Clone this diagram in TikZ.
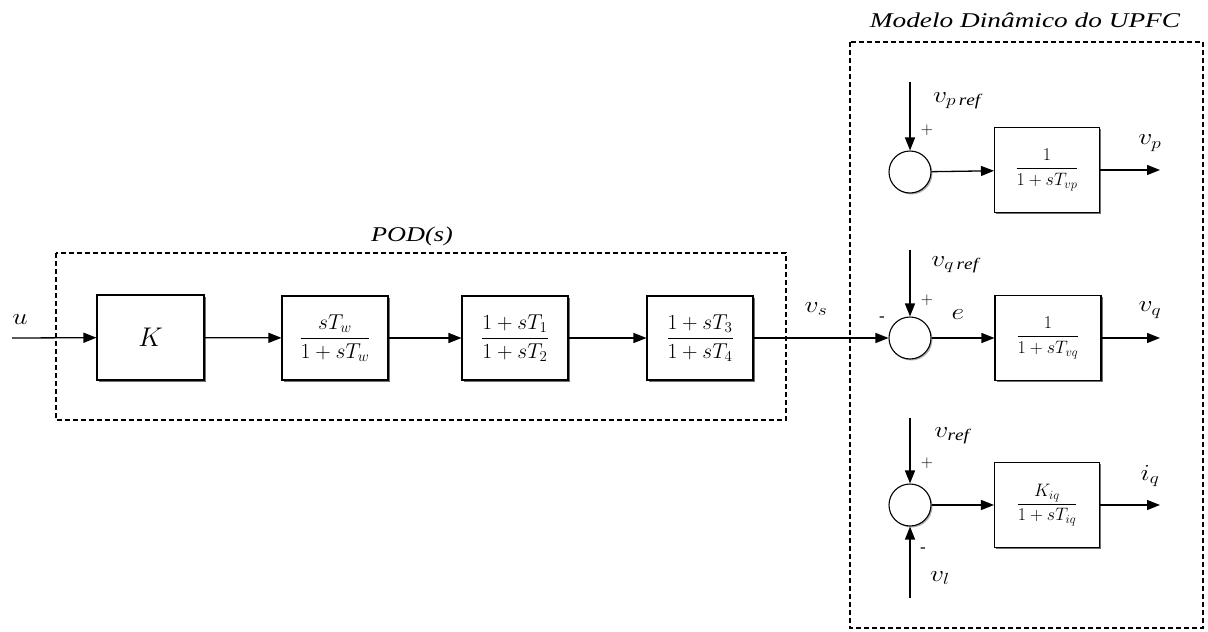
\RequirePackage{fix-cm}
\documentclass[tikz,border=0pt]{standalone}
\usepackage{amsmath}
\usepackage{fontspec}
\setmainfont{Liberation Serif}
\usetikzlibrary{arrows.meta,shadows}
\begin{document}
\begin{tikzpicture}[x=1pt,y=-1pt,
  blk/.style={draw, line width=1.1pt, fill=white, minimum width=106pt, minimum height=84pt, inner sep=0pt,
     font=\fontsize{21.5}{24}\selectfont,
     drop shadow={shadow xshift=1.8pt, shadow yshift=-1.8pt, fill=black!70, opacity=0.8}},
  sumc/.style={circle, draw, line width=1.1pt, fill=white, minimum size=42pt, inner sep=0pt,
     drop shadow={shadow xshift=1.5pt, shadow yshift=-1.5pt, fill=black!50, opacity=0.6}},
  arr/.style={line width=1.3pt, -{Triangle[length=13pt,width=10pt]}},
  frame/.style={draw, line width=1.4pt, dash pattern=on 5pt off 3pt},
  lbl/.style={font=\fontsize{23}{25}\selectfont, inner sep=0pt, xscale=1.2},
  sgn/.style={font=\fontsize{17}{19}\selectfont, inner sep=0pt}
]
\useasboundingbox (0,0) rectangle (1208,632);
% frames
\draw[frame] (56,253) rectangle (786,420);
\draw[frame] (850,42) rectangle (1203,628);
\node[font=\itshape\fontsize{21}{23}\selectfont, xscale=1.25] (podt) at (412,236) {POD(s)};
\node[font=\itshape\fontsize{21}{23}\selectfont, xscale=1.3] (upfct) at (1025,20) {Modelo Dinâmico do UPFC};
% POD blocks
\coordinate (uin) at (12,338);
\node[blk, minimum width=107pt, minimum height=85pt, font=\fontsize{27}{29}\selectfont] (K) at (150.5,337.5) {$K$};
\node[blk] (W) at (335,338) {$\dfrac{sT_w}{1+sT_w}$};
\node[blk] (L1) at (515,338) {$\dfrac{1+sT_1}{1+sT_2}$};
\node[blk] (L2) at (700,338) {$\dfrac{1+sT_3}{1+sT_4}$};
% sums
\node[sumc] (S1) at (910,172) {};
\node[sumc] (S2) at (910,338) {};
\node[sumc] (S3) at (910,505) {};
% UPFC blocks
\node[blk, minimum width=105pt, minimum height=85pt, font=\fontsize{18}{20}\selectfont] (B1) at (1047,170) {$\dfrac{1}{1+sT_{vp}}$};
\node[blk, minimum width=106pt, minimum height=85pt, font=\fontsize{18}{20}\selectfont] (B2) at (1048,338) {$\dfrac{1}{1+sT_{vq}}$};
\node[blk, minimum width=105pt, minimum height=85pt, font=\fontsize{18}{20}\selectfont] (B3) at (1047,505) {$\dfrac{K_{iq}}{1+sT_{iq}}$};
% free ends
\coordinate (r1) at (910,82);
\coordinate (r2) at (910,250);
\coordinate (r3) at (910,418);
\coordinate (r4) at (910,598);
\coordinate (o1) at (1160,170);
\coordinate (o2) at (1160,338);
\coordinate (o3) at (1160,505);
% connectors
\draw[arr] (uin) -- (K);
\draw[arr] (K) -- (W);
\draw[arr] (W) -- (L1);
\draw[arr] (L1) -- (L2);
\draw[arr] (L2) -- (S2);
\draw[arr] (r1) -- (S1);
\draw[arr] (r2) -- (S2);
\draw[arr] (r3) -- (S3);
\draw[arr] (r4) -- (S3);
\draw[arr] (S1) -- (B1);
\draw[arr] (S2) -- (B2);
\draw[arr] (S3) -- (B3);
\draw[arr] (B1) -- (o1);
\draw[arr] (B2) -- (o2);
\draw[arr] (B3) -- (o3);
% labels
\node[lbl] (lu) at (20,320) {$u$};
\node[lbl] (lvs) at (816,309) {$v_s$};
\node[lbl] (lvpr) at (957,101) {$v_{p\,\mathit{ref}}$};
\node[lbl] (lvp) at (1150,143) {$v_p$};
\node[lbl] (lvqr) at (955,265) {$v_{q\,\mathit{ref}}$};
\node[lbl] (le) at (958,315) {$e$};
\node[lbl] (lvq) at (1150,310) {$v_q$};
\node[lbl] (lvr) at (952,436) {$v_{\mathit{ref}}$};
\node[lbl] (liq) at (1150,476) {$i_q$};
\node[lbl] (lvl) at (940,578) {$v_l$};
\node[sgn] (p1) at (927,130) {$+$};
\node[sgn] (p2) at (927,300) {$+$};
\node[sgn] (p3) at (927,463) {$+$};
\node[sgn] (m2) at (882,319) {-};
\node[sgn] (m3) at (923,550) {-};
\end{tikzpicture}
\end{document}
